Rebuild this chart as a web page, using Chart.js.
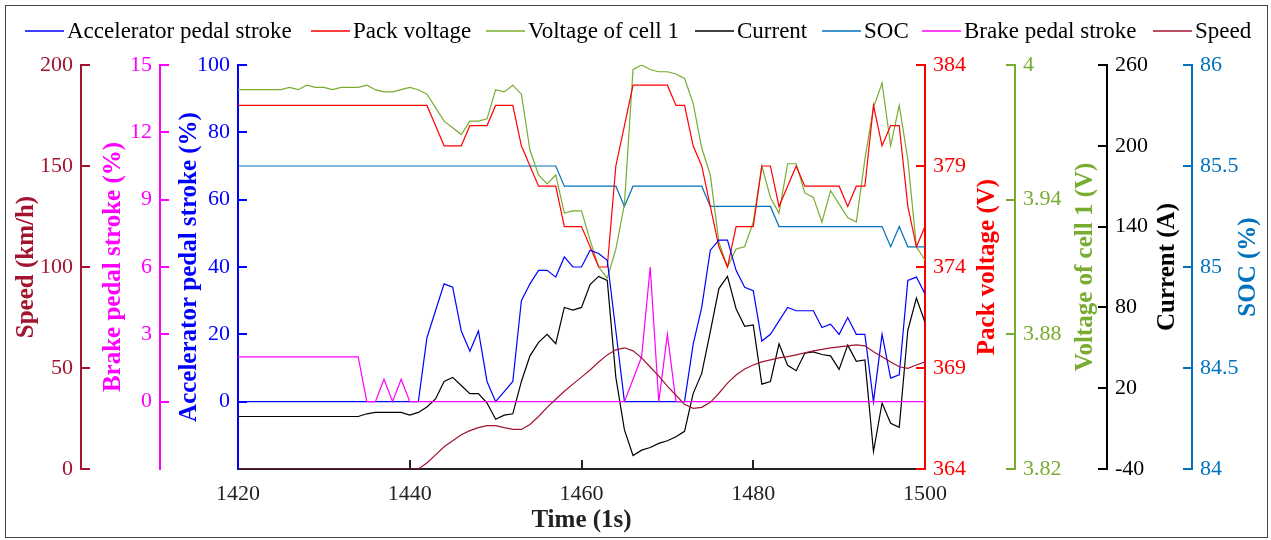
<!DOCTYPE html>
<html>
<head>
<meta charset="utf-8">
<script src="https://cdn.jsdelivr.net/npm/chart.js@4.4.0/dist/chart.umd.min.js"></script>
<style>
html,body{margin:0;padding:0;background:#fff;}
#wrap{position:relative;width:1271px;height:540px;}
canvas{display:block;}
</style>
</head>
<body>
<div id="wrap"><canvas id="c" width="1271" height="540"></canvas></div>
<script>
// ---------------- DATA ----------------
const time = [1420,1421,1422,1423,1424,1425,1426,1427,1428,1429,1430,1431,1432,1433,1434,1435,1436,1437,1438,1439,
1440,1441,1442,1443,1444,1445,1446,1447,1448,1449,1450,1451,1452,1453,1454,1455,1456,1457,1458,1459,
1460,1461,1462,1463,1464,1465,1466,1467,1468,1469,1470,1471,1472,1473,1474,1475,1476,1477,1478,1479,
1480,1481,1482,1483,1484,1485,1486,1487,1488,1489,1490,1491,1492,1493,1494,1495,1496,1497,1498,1499,1500];

const accelPedal = [0,0,0,0,0,0,0,0,0,0,0,0,0,0,0,0,0,0,0,0,
0,0,19,27,35,34,21,15,21,6,0,3,6,30,35,39,39,37,43,40,
40,45,44,42,21,0,0,0,0,0,0,0,0,17,28,45,48,48,39,34,
33,18,20,24,28,27,27,27,22,23,20,25,20,20,0,20,7,8,36,37,32];

const packVoltage = [382,382,382,382,382,382,382,382,382,382,382,382,382,382,382,382,382,382,382,382,
382,382,382,381,380,380,380,381,381,381,382,382,382,380,379,378,378,378,376,376,
376,375,374,374,379,381,383,383,383,383,383,382,382,380,379,377,375,374,376,376,
376,379,379,377,378,379,378,378,378,378,378,377,378,378,382,380,381,381,377,375,376];

const cellVoltage = [3.989,3.989,3.989,3.989,3.989,3.989,3.990,3.989,3.991,3.990,3.990,3.989,3.990,3.990,3.990,3.991,3.989,3.988,3.988,3.989,
3.990,3.989,3.987,3.981,3.975,3.972,3.969,3.975,3.975,3.976,3.989,3.988,3.991,3.987,3.962,3.951,3.947,3.951,3.934,3.935,
3.935,3.922,3.910,3.905,3.918,3.938,3.998,4.000,3.998,3.997,3.997,3.996,3.994,3.983,3.963,3.951,3.921,3.910,3.918,3.919,
3.930,3.955,3.941,3.934,3.956,3.956,3.943,3.941,3.930,3.944,3.938,3.932,3.930,3.958,3.981,3.992,3.964,3.982,3.958,3.919,3.913];

const current = [-1,-1,-1,-1,-1,-1,-1,-1,-1,-1,-1,-1,-1,-1,-1,1,2,2,2,2,
0,2,6,12,25,28,22,16,16,9,-3,0,1,25,44,54,60,53,80,78,
80,97,103,100,28,-11,-30,-26,-24,-21,-19,-16,-12,16,31,62,94,103,79,66,
67,23,25,53,37,33,46,47,45,44,34,52,40,41,-27,9,-6,-9,63,87,69];

const soc = [85.5,85.5,85.5,85.5,85.5,85.5,85.5,85.5,85.5,85.5,85.5,85.5,85.5,85.5,85.5,85.5,85.5,85.5,85.5,85.5,
85.5,85.5,85.5,85.5,85.5,85.5,85.5,85.5,85.5,85.5,85.5,85.5,85.5,85.5,85.5,85.5,85.5,85.5,85.4,85.4,
85.4,85.4,85.4,85.4,85.4,85.3,85.4,85.4,85.4,85.4,85.4,85.4,85.4,85.4,85.4,85.3,85.3,85.3,85.3,85.3,
85.3,85.3,85.3,85.2,85.2,85.2,85.2,85.2,85.2,85.2,85.2,85.2,85.2,85.2,85.2,85.2,85.1,85.2,85.1,85.1,85.1];

const brakePedal = [2,2,2,2,2,2,2,2,2,2,2,2,2,2,2,0,0,1,0,1,
0,0,0,0,0,0,0,0,0,0,0,0,0,0,0,0,0,0,0,0,
0,0,0,0,0,0,1,2,6,0,3,0,0,0,0,0,0,0,0,0,
0,0,0,0,0,0,0,0,0,0,0,0,0,0,0,0,0,0,0,0,0];

const speed = [0,0,0,0,0,0,0,0,0,0,0,0,0,0,0,0,0,0,0,0,
0,0,3,7,11,14,17,19,20.5,21.5,21.5,20.5,19.6,19.6,22,26,30.5,34.5,38.5,42,
45.5,49,53,56.5,59,60,58.5,55,50.5,46,41,36.5,32,30,30.5,33,37.5,42.5,46.5,49.5,
51.5,53,54,55,55.6,56.5,57.5,58.5,59.2,60,60.5,61,61.4,61,58,55.6,53,50.6,49.8,51.5,53];

// tick labels
const timeTicks = [1420,1440,1460,1480,1500];
const speedTicks = [0,50,100,150,200];
const brakeTicks = [0,3,6,9,12,15];
const accelTicks = [0,20,40,60,80,100];
const packTicks = [364,369,374,379,384];
const cellTicks = [3.82,3.88,3.94,4];
const currentTicks = [-40,20,80,140,200,260];
const socTicks = [84,84.5,85,85.5,86];

// series names
const seriesNames = ['Accelerator pedal stroke','Pack voltage','Voltage of cell 1','Current','SOC','Brake pedal stroke','Speed'];

// ---------------- STYLE ----------------
const FONT = "'Liberation Serif', 'Times New Roman', serif";
Chart.defaults.font.family = FONT;
const C = {
  acc:'#0000FF', pack:'#FF0000', cell:'#77AC30', cur:'#000000', soc:'#0072BD', brake:'#FF00FF', speed:'#A2142F'
};

const axisMeta = {
  ySpeed:{color:C.speed, title:'Speed (km/h)', tx:27, side:'left'},
  yBrake:{color:C.brake, title:'Brake pedal stroke (%)', tx:114, side:'left'},
  yAcc:{color:C.acc, title:'Accelerator pedal stroke (%)', tx:190, side:'left'},
  yPack:{color:C.pack, title:'Pack voltage (V)', tx:988, side:'right'},
  yCell:{color:C.cell, title:'Voltage of cell 1 (V)', tx:1086, side:'right'},
  yCur:{color:C.cur, title:'Current (A)', tx:1168, side:'right'},
  ySoc:{color:C.soc, title:'SOC (%)', tx:1249, side:'right'}
};

function fmt(v){ return String(Math.round(v*100)/100); }

function yAxis(id, pos, weight, min, max, tickArr, width){
  const m = axisMeta[id];
  return {
    type:'linear', position:pos, weight:weight, min:min, max:max,
    afterBuildTicks: s => { s.ticks = tickArr.map(v => ({value:v})); },
    afterFit: s => { s.width = width; },
    ticks:{color:m.color, font:{family:FONT, size:22}, padding:8, autoSkip:false, maxRotation:0, callback:v => fmt(v)},
    grid:{display:false, drawTicks:false},
    border:{display:true, color:m.color, width:2},
    title:{display:false}
  };
}

function pts(arr){ return time.map((t,i) => ({x:t, y:arr[i]})); }

function ds(label, arr, color, axis, order){
  return {label:label, data:pts(arr), borderColor:color, backgroundColor:color, yAxisID:axis,
    borderWidth:1.2, pointRadius:0, tension:0, fill:false, order:order};
}

const legendItems = [
  {name:seriesNames[0], color:C.acc, x:25},
  {name:seriesNames[1], color:C.pack, x:311},
  {name:seriesNames[2], color:C.cell, x:486},
  {name:seriesNames[3], color:C.cur, x:695},
  {name:seriesNames[4], color:C.soc, x:822},
  {name:seriesNames[5], color:C.brake, x:922},
  {name:seriesNames[6], color:C.speed, x:1153}
];

const decor = {
  id:'decor',
  beforeDraw(chart){
    const ctx = chart.ctx;
    ctx.save();
    ctx.fillStyle = '#fff';
    ctx.fillRect(0,0,chart.width,chart.height);
    ctx.restore();
  },
  afterDraw(chart){
    const ctx = chart.ctx;
    const ca = chart.chartArea;
    ctx.save();
    ctx.lineWidth = 2;
    Object.keys(axisMeta).forEach(id => {
      const s = chart.scales[id];
      const m = axisMeta[id];
      ctx.strokeStyle = m.color;
      s.ticks.forEach(t => {
        const y = Math.round(s.getPixelForValue(t.value));
        ctx.beginPath();
        if (m.side === 'left'){ ctx.moveTo(s.right, y); ctx.lineTo(s.right + 9, y); }
        else { ctx.moveTo(s.left, y); ctx.lineTo(s.left - 9, y); }
        ctx.stroke();
      });
      ctx.save();
      ctx.translate(m.tx, (ca.top + ca.bottom)/2);
      ctx.rotate(-Math.PI/2);
      ctx.fillStyle = m.color;
      ctx.font = 'bold 25px ' + FONT;
      ctx.textAlign = 'center';
      ctx.textBaseline = 'middle';
      ctx.fillText(m.title, 0, 0);
      ctx.restore();
    });
    const xs = chart.scales.x;
    ctx.strokeStyle = '#222';
    timeTicks.forEach(v => {
      if (v === xs.min || v === xs.max) return;
      const x = Math.round(xs.getPixelForValue(v));
      ctx.beginPath(); ctx.moveTo(x, ca.bottom); ctx.lineTo(x, ca.bottom - 9); ctx.stroke();
    });
    ctx.fillStyle = '#222';
    ctx.font = 'bold 25px ' + FONT;
    ctx.textAlign = 'center';
    ctx.textBaseline = 'middle';
    ctx.fillText('Time (1s)', (ca.left + ca.right)/2, 521);
    ctx.font = '23px ' + FONT;
    ctx.textAlign = 'left';
    legendItems.forEach(it => {
      ctx.strokeStyle = it.color;
      ctx.lineWidth = 1.5;
      ctx.beginPath(); ctx.moveTo(it.x, 31); ctx.lineTo(it.x + 39, 31); ctx.stroke();
      ctx.fillStyle = '#000';
      ctx.fillText(it.name, it.x + 42, 32);
    });
    ctx.strokeStyle = '#444';
    ctx.lineWidth = 1;
    ctx.strokeRect(5.5, 5.5, 1262, 532);
    ctx.restore();
  }
};

new Chart(document.getElementById('c'), {
  type:'line',
  data:{
    datasets:[
      ds(seriesNames[0], accelPedal, C.acc, 'yAcc', 3),
      ds(seriesNames[1], packVoltage, C.pack, 'yPack', 4),
      ds(seriesNames[2], cellVoltage, C.cell, 'yCell', 5),
      ds(seriesNames[3], current, C.cur, 'yCur', 2),
      ds(seriesNames[4], soc, C.soc, 'ySoc', 6),
      ds(seriesNames[5], brakePedal, C.brake, 'yBrake', 1),
      ds(seriesNames[6], speed, C.speed, 'ySpeed', 0)
    ]
  },
  options:{
    responsive:false, animation:false, devicePixelRatio:1,
    layout:{padding:{top:65, bottom:0, left:0, right:0}},
    plugins:{legend:{display:false}, tooltip:{enabled:false}},
    scales:{
      x:{
        type:'linear', position:'bottom', min:1420, max:1500,
        afterBuildTicks: s => { s.ticks = timeTicks.map(v => ({value:v})); },
        afterFit: s => { s.height = 71; },
        ticks:{color:'#222', font:{family:FONT, size:22}, padding:12, autoSkip:false, maxRotation:0, callback:v => String(v)},
        grid:{display:false, drawTicks:false},
        border:{display:true, color:'#222', width:2}
      },
      ySpeed: yAxis('ySpeed','left',3,0,200,speedTicks,81),
      yBrake: yAxis('yBrake','left',2,-3,15,brakeTicks,79),
      yAcc: yAxis('yAcc','left',1,-20,100,accelTicks,78),
      yPack: yAxis('yPack','right',1,364,384,packTicks,90),
      yCell: yAxis('yCell','right',2,3.82,4,cellTicks,92),
      yCur: yAxis('yCur','right',3,-40,260,currentTicks,85),
      ySoc: yAxis('ySoc','right',4,84,86,socTicks,79)
    }
  },
  plugins:[decor]
});
</script>
</body>
</html>
